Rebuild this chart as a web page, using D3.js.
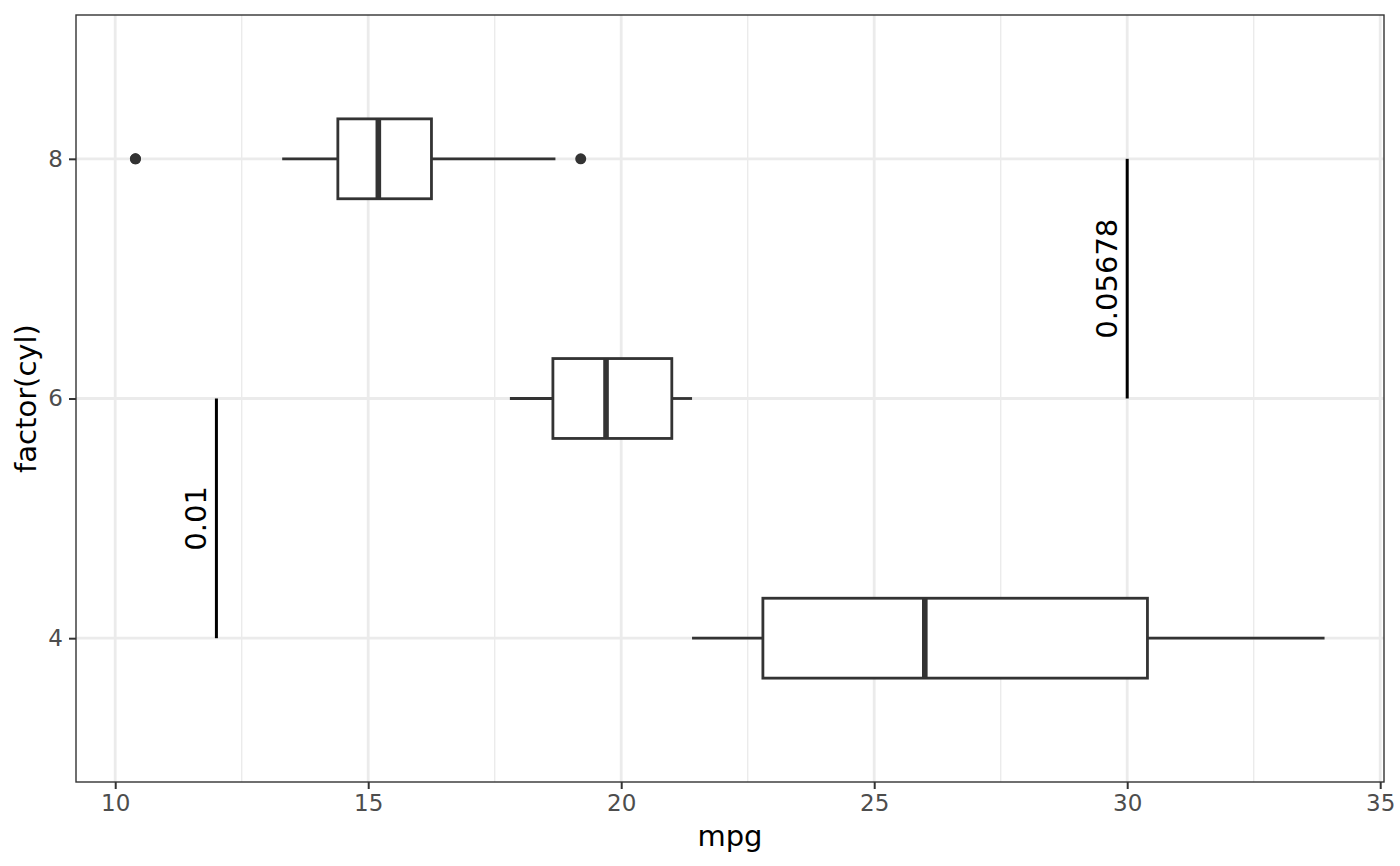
<!DOCTYPE html>
<html>
<head>
<meta charset="utf-8">
<script src="https://cdn.jsdelivr.net/npm/d3@7"></script>
<style>
  body { margin: 0; background: #fff; }
  text { font-family: "DejaVu Sans", sans-serif; }
</style>
</head>
<body>
<script>
// mtcars boxplot stats by cylinder
var cylLevels = ["4", "6", "8"];
var boxMin = [21.4, 17.8, 13.3];
var boxQ1 = [22.8, 18.65, 14.4];
var boxMedian = [26.0, 19.7, 15.2];
var boxQ3 = [30.4, 21.0, 16.25];
var boxMax = [33.9, 21.4, 18.7];

var outlierCyl = ["8", "8", "8"];
var outlierMpg = [10.4, 10.4, 19.2];

// significance brackets
var sigFrom = ["4", "6"];
var sigTo = ["6", "8"];
var sigX = [12, 30];
var sigLabel = ["0.01", "0.05678"];

var xTicks = [10, 15, 20, 25, 30, 35];
var xMinorTicks = [12.5, 17.5, 22.5, 27.5, 32.5];

var svgWidth = 1400, svgHeight = 866;
var margin = { top: 15, right: 16, bottom: 84, left: 76 };
var plotW = svgWidth - margin.left - margin.right;
var plotH = svgHeight - margin.top - margin.bottom;

var svg = d3.select("body").append("svg")
    .attr("width", svgWidth)
    .attr("height", svgHeight);

// x range from data plus annotations, expanded 5% like ggplot
var allX = outlierMpg.concat(boxMin, boxMax, sigX);
var xLo = d3.min(allX), xHi = d3.max(allX);
var xPad = (xHi - xLo) * 0.05;

var x = d3.scaleLinear()
    .domain([xLo - xPad, xHi + xPad])
    .range([margin.left, margin.left + plotW]);

var y = d3.scalePoint()
    .domain(cylLevels)
    .range([margin.top + plotH, margin.top])
    .padding(0.6);

var halfBox = y.step() / 6;

var grid = svg.append("g");
grid.selectAll(".minor")
    .data(xMinorTicks)
    .enter().append("line")
    .attr("x1", function(d) { return x(d); })
    .attr("x2", function(d) { return x(d); })
    .attr("y1", margin.top)
    .attr("y2", margin.top + plotH)
    .attr("stroke", "#EBEBEB")
    .attr("stroke-width", 1.4);
grid.selectAll(".majorx")
    .data(xTicks)
    .enter().append("line")
    .attr("x1", function(d) { return x(d); })
    .attr("x2", function(d) { return x(d); })
    .attr("y1", margin.top)
    .attr("y2", margin.top + plotH)
    .attr("stroke", "#EBEBEB")
    .attr("stroke-width", 2.8);
grid.selectAll(".majory")
    .data(cylLevels)
    .enter().append("line")
    .attr("x1", margin.left)
    .attr("x2", margin.left + plotW)
    .attr("y1", function(d) { return y(d); })
    .attr("y2", function(d) { return y(d); })
    .attr("stroke", "#EBEBEB")
    .attr("stroke-width", 2.8);

// boxes
var boxes = svg.append("g")
    .selectAll("g")
    .data(cylLevels)
    .enter().append("g");

boxes.append("line")
    .attr("x1", function(d, i) { return x(boxMin[i]); })
    .attr("x2", function(d, i) { return x(boxQ1[i]); })
    .attr("y1", function(d) { return y(d); })
    .attr("y2", function(d) { return y(d); })
    .attr("stroke", "#333333")
    .attr("stroke-width", 2.8);
boxes.append("line")
    .attr("x1", function(d, i) { return x(boxQ3[i]); })
    .attr("x2", function(d, i) { return x(boxMax[i]); })
    .attr("y1", function(d) { return y(d); })
    .attr("y2", function(d) { return y(d); })
    .attr("stroke", "#333333")
    .attr("stroke-width", 2.8);
boxes.append("rect")
    .attr("x", function(d, i) { return x(boxQ1[i]); })
    .attr("width", function(d, i) { return x(boxQ3[i]) - x(boxQ1[i]); })
    .attr("y", function(d) { return y(d) - halfBox; })
    .attr("height", halfBox * 2)
    .attr("fill", "white")
    .attr("stroke", "#333333")
    .attr("stroke-width", 2.8);
boxes.append("line")
    .attr("x1", function(d, i) { return x(boxMedian[i]); })
    .attr("x2", function(d, i) { return x(boxMedian[i]); })
    .attr("y1", function(d) { return y(d) - halfBox; })
    .attr("y2", function(d) { return y(d) + halfBox; })
    .attr("stroke", "#333333")
    .attr("stroke-width", 5.6);

svg.append("g")
    .selectAll("circle")
    .data(outlierMpg)
    .enter().append("circle")
    .attr("cx", function(d) { return x(d); })
    .attr("cy", function(d, i) { return y(outlierCyl[i]); })
    .attr("r", 5.5)
    .attr("fill", "#333333");

// significance lines and labels
var sig = svg.append("g")
    .selectAll("g")
    .data(sigX)
    .enter().append("g");
sig.append("line")
    .attr("x1", function(d) { return x(d); })
    .attr("x2", function(d) { return x(d); })
    .attr("y1", function(d, i) { return y(sigFrom[i]); })
    .attr("y2", function(d, i) { return y(sigTo[i]); })
    .attr("stroke", "black")
    .attr("stroke-width", 3);
sig.append("text")
    .attr("transform", function(d, i) {
        var cy = (y(sigFrom[i]) + y(sigTo[i])) / 2;
        return "translate(" + (x(d) - 10) + "," + cy + ") rotate(-90)";
    })
    .attr("text-anchor", "middle")
    .style("font-size", "29px")
    .attr("fill", "black")
    .text(function(d, i) { return sigLabel[i]; });

// panel border
svg.append("rect")
    .attr("x", margin.left)
    .attr("y", margin.top)
    .attr("width", plotW)
    .attr("height", plotH)
    .attr("fill", "none")
    .attr("stroke", "#333333")
    .attr("stroke-width", 1.4);

// axes
var xAxis = svg.append("g")
    .attr("transform", "translate(0," + (margin.top + plotH) + ")")
    .call(d3.axisBottom(x).tickValues(xTicks).tickSize(7).tickPadding(6));
var yAxis = svg.append("g")
    .attr("transform", "translate(" + margin.left + ",0)")
    .call(d3.axisLeft(y).tickSize(7).tickPadding(6));

[xAxis, yAxis].forEach(function(ax) {
    ax.select(".domain").remove();
    ax.selectAll(".tick line").attr("stroke", "#333333").attr("stroke-width", 2);
    ax.selectAll(".tick text")
        .attr("fill", "#4D4D4D")
        .style("font-size", "23px")
        .style("font-family", "DejaVu Sans, sans-serif");
});

svg.append("text")
    .attr("x", margin.left + plotW / 2)
    .attr("y", 846)
    .attr("text-anchor", "middle")
    .style("font-size", "29px")
    .text("mpg");

svg.append("text")
    .attr("transform", "translate(36," + (margin.top + plotH / 2) + ") rotate(-90)")
    .attr("text-anchor", "middle")
    .style("font-size", "29px")
    .text("factor(cyl)");
</script>
</body>
</html>
